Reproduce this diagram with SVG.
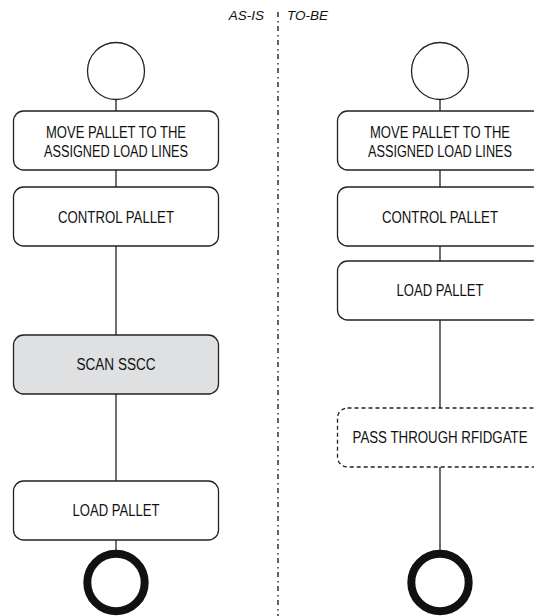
<svg xmlns="http://www.w3.org/2000/svg" width="534" height="616" viewBox="0 0 534 616">
  <style>
    .bg { fill: #ffffff; }
    .box { fill: #ffffff; stroke: #222222; stroke-width: 1.3; }
    .shaded { fill: #dfe0e2; }
    .dashed { stroke-dasharray: 4 3; }
    .start { fill: #ffffff; stroke: #222222; stroke-width: 1.3; }
    .end { fill: none; stroke: #111111; stroke-width: 8; }
    .link { stroke: #222222; stroke-width: 1.3; fill: none; }
    .divider { stroke: #222222; stroke-width: 1.4; stroke-dasharray: 5 4 1.5 3.5; fill: none; }
    .label { font-family: "Liberation Sans", Arial, sans-serif; font-size: 16px; fill: #111111; text-anchor: middle; }
    .lane { font-family: "Liberation Sans", Arial, sans-serif; font-size: 13.5px; font-style: italic; fill: #111111; }
  </style>

  <rect class="bg" x="0" y="0" width="534" height="616"/>

  <!-- lane separator and lane titles -->
  <g id="lanes">
    <line class="divider" x1="278" y1="12" x2="278" y2="616"/>
    <text class="lane" x="264" y="20" text-anchor="end">AS-IS</text>
    <text class="lane" x="287" y="20">TO-BE</text>
  </g>

  <!-- connectors -->
  <g id="connectors">
    <line class="link" x1="116" y1="99" x2="116" y2="111"/>
    <line class="link" x1="116" y1="170" x2="116" y2="187"/>
    <line class="link" x1="116" y1="246" x2="116" y2="335"/>
    <line class="link" x1="116" y1="394" x2="116" y2="481"/>
    <line class="link" x1="116" y1="540" x2="116" y2="551"/>

    <line class="link" x1="440" y1="99" x2="440" y2="111"/>
    <line class="link" x1="440" y1="170" x2="440" y2="187"/>
    <line class="link" x1="440" y1="246" x2="440" y2="261"/>
    <line class="link" x1="440" y1="320" x2="440" y2="408"/>
    <line class="link" x1="440" y1="467" x2="440" y2="551"/>
  </g>

  <!-- AS-IS flow -->
  <g id="asis-start">
    <circle class="start" cx="116" cy="71" r="28.5"/>
  </g>
  <g id="asis-move">
    <rect class="box" x="13.5" y="111" width="205" height="59" rx="10"/>
    <text class="label" x="116" y="137.5" textLength="140" lengthAdjust="spacingAndGlyphs">MOVE PALLET TO THE</text>
    <text class="label" x="116" y="156.5" textLength="144" lengthAdjust="spacingAndGlyphs">ASSIGNED LOAD LINES</text>
  </g>
  <g id="asis-control">
    <rect class="box" x="13.5" y="187" width="205" height="59" rx="10"/>
    <text class="label" x="116" y="222.5" textLength="116" lengthAdjust="spacingAndGlyphs">CONTROL PALLET</text>
  </g>
  <g id="asis-scan">
    <rect class="box shaded" x="13.5" y="335" width="205" height="59" rx="10"/>
    <text class="label" x="116" y="370" textLength="79" lengthAdjust="spacingAndGlyphs">SCAN SSCC</text>
  </g>
  <g id="asis-load">
    <rect class="box" x="13.5" y="481" width="205" height="59" rx="10"/>
    <text class="label" x="116" y="516" textLength="87" lengthAdjust="spacingAndGlyphs">LOAD PALLET</text>
  </g>
  <g id="asis-end">
    <circle class="end" cx="116" cy="582.5" r="28.7"/>
  </g>

  <!-- TO-BE flow -->
  <g id="tobe-start">
    <circle class="start" cx="440" cy="71" r="28.5"/>
  </g>
  <g id="tobe-move">
    <rect class="box" x="337.5" y="111" width="205" height="59" rx="10"/>
    <text class="label" x="440" y="137.5" textLength="140" lengthAdjust="spacingAndGlyphs">MOVE PALLET TO THE</text>
    <text class="label" x="440" y="156.5" textLength="144" lengthAdjust="spacingAndGlyphs">ASSIGNED LOAD LINES</text>
  </g>
  <g id="tobe-control">
    <rect class="box" x="337.5" y="187" width="205" height="59" rx="10"/>
    <text class="label" x="440" y="222.5" textLength="116" lengthAdjust="spacingAndGlyphs">CONTROL PALLET</text>
  </g>
  <g id="tobe-load">
    <rect class="box" x="337.5" y="261" width="205" height="59" rx="10"/>
    <text class="label" x="440" y="296" textLength="87" lengthAdjust="spacingAndGlyphs">LOAD PALLET</text>
  </g>
  <g id="tobe-rfid">
    <rect class="box dashed" x="337.5" y="408" width="205" height="59" rx="10"/>
    <text class="label" x="440" y="443" textLength="175" lengthAdjust="spacingAndGlyphs">PASS THROUGH RFIDGATE</text>
  </g>
  <g id="tobe-end">
    <circle class="end" cx="440" cy="582.5" r="28.7"/>
  </g>
</svg>
